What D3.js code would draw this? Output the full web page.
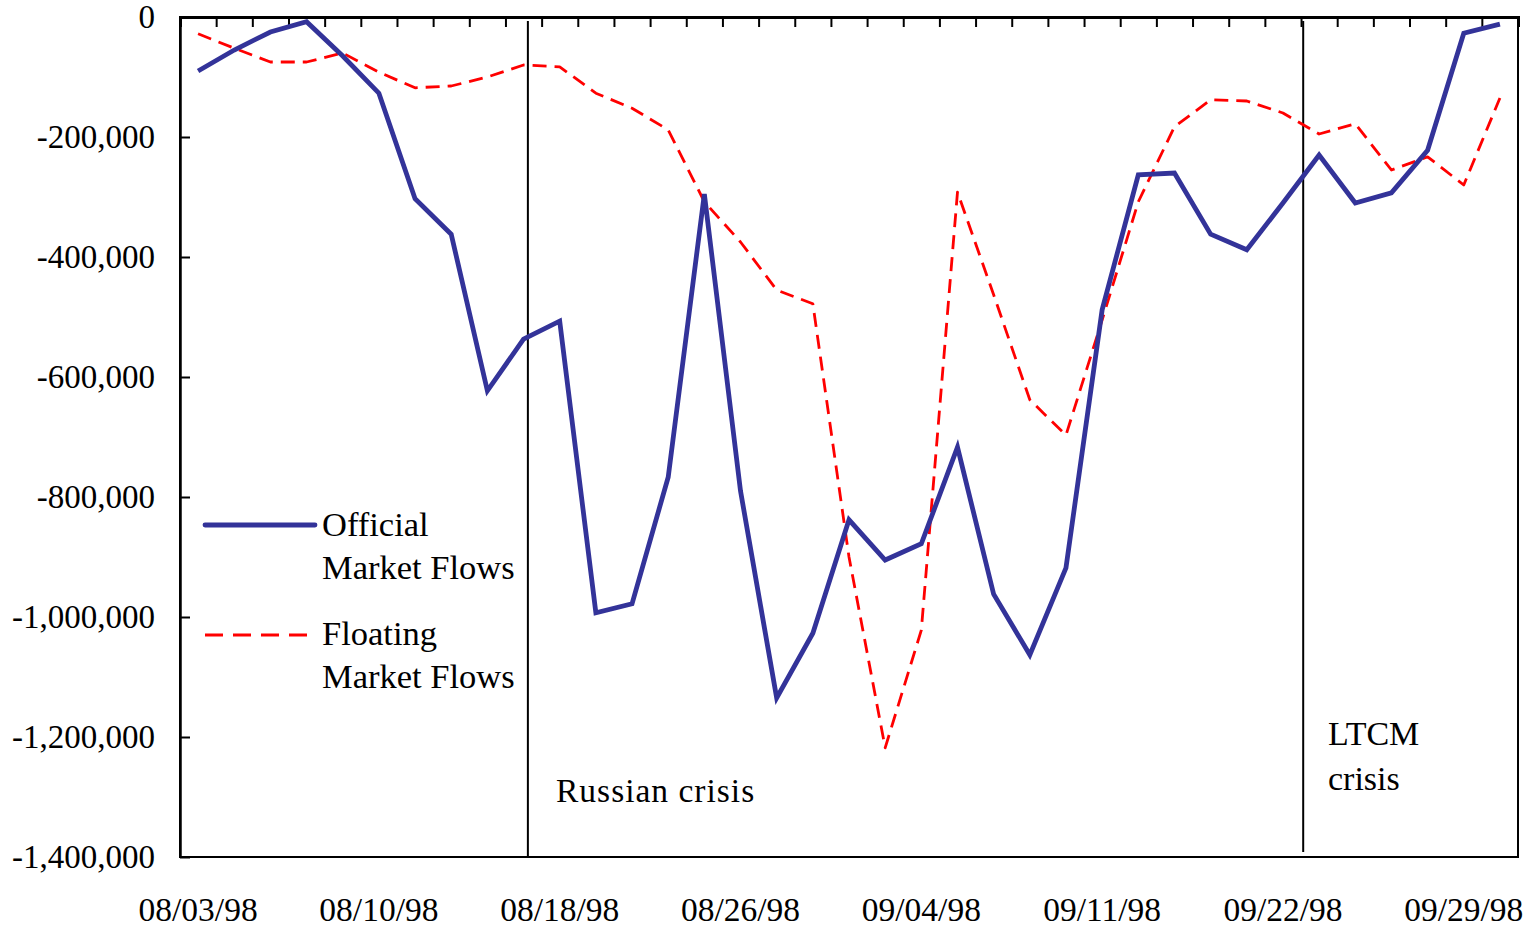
<!DOCTYPE html>
<html>
<head>
<meta charset="utf-8">
<script src="https://cdn.jsdelivr.net/npm/d3@7"></script>
<style>
  html, body { margin: 0; padding: 0; background: #fff; }
  svg { display: block; }
  text { font-family: "Liberation Serif", "Times New Roman", serif; fill: #000; }
</style>
</head>
<body>
<svg id="chart" width="1529" height="927"></svg>
<script>
// ---- data ----
const nPoints = 37;
const tickIndices = [0, 5, 10, 15, 20, 25, 30, 35];
const tickLabels = ["08/03/98", "08/10/98", "08/18/98", "08/26/98", "09/04/98", "09/11/98", "09/22/98", "09/29/98"];
const yTicks = [0, -200000, -400000, -600000, -800000, -1000000, -1200000, -1400000];

const official = [
  -90000, -55000, -25000, -8000, -65000, -127000, -303000, -362000, -623000, -537000,
  -507000, -993000, -978000, -767000, -295000, -790000, -1135000, -1027000, -838000, -905000,
  -878000, -717000, -962000, -1063000, -918000, -488000, -263000, -260000, -362000, -388000,
  -310000, -230000, -310000, -293000, -222000, -27000, -12000
];
const floating = [
  -28000, -52000, -75000, -75000, -60000, -92000, -118000, -115000, -100000, -80000,
  -83000, -127000, -152000, -188000, -308000, -375000, -455000, -478000, -900000, -1218000,
  -1022000, -292000, -463000, -638000, -697000, -505000, -308000, -183000, -138000, -140000,
  -160000, -195000, -178000, -255000, -233000, -280000, -135000
];
// crisis markers, in category units (band position)
const crisisPos = [9.62, 31.06];
const legendNames = [["Official", "Market Flows"], ["Floating", "Market Flows"]];

// ---- layout ----
const svg = d3.select("#chart");
const L = 180, R = 1518, T = 17, B = 857;

const x = d3.scaleBand().domain(d3.range(nPoints)).range([L, R]).padding(0);
const xc = i => x(i) + x.bandwidth() / 2;
const xb = d3.scaleLinear().domain([0, nPoints]).range([L, R]);
const y = d3.scaleLinear().domain([-1400000, 0]).range([B, T]);

// frame
svg.append("rect").attr("x", L).attr("y", T).attr("width", R - L).attr("height", B - T)
  .attr("fill", "none").attr("stroke", "#000").attr("stroke-width", 2);

// top category axis (ticks between categories, pointing down)
const topAx = svg.append("g").attr("transform", `translate(0,${T})`)
  .call(d3.axisBottom(xb).tickValues(d3.range(1, nPoints)).tickSize(10).tickFormat(""));
topAx.select(".domain").attr("stroke-width", 3);
topAx.selectAll(".tick line").attr("stroke-width", 2);

// bottom labels
const botAx = svg.append("g").attr("transform", `translate(0,${B})`)
  .call(d3.axisBottom(x).tickValues(tickIndices).tickSize(0).tickPadding(40)
    .tickFormat((d) => tickLabels[tickIndices.indexOf(d)]));
botAx.select(".domain").remove();
botAx.selectAll("text").style("font-size", "33.5px").attr("font-family", null);

// left axis
const fmt = d3.format(",");
const leftAx = svg.append("g").attr("transform", `translate(${L},0)`)
  .call(d3.axisLeft(y).tickValues(yTicks).tickSizeInner(-10).tickSizeOuter(0).tickPadding(25)
    .tickFormat(d => d === 0 ? "0" : "-" + fmt(Math.abs(d))));
leftAx.select(".domain").attr("stroke-width", 2.5);
leftAx.selectAll(".tick line").attr("stroke-width", 2);
leftAx.selectAll("text").style("font-size", "33px").attr("font-family", null);

// crisis lines
svg.selectAll("line.crisis").data(crisisPos).enter().append("line")
  .attr("class", "crisis")
  .attr("x1", d => xb(d)).attr("x2", d => xb(d))
  .attr("y1", T + 4).attr("y2", (d, i) => i === 0 ? B : B - 5)
  .attr("stroke", "#000").attr("stroke-width", 2);

// series lines
const line = d3.line().x((d, i) => xc(i)).y(d => y(d));
svg.append("path").datum(floating).attr("d", line)
  .attr("fill", "none").attr("stroke", "#ff0000").attr("stroke-width", 2.8)
  .attr("stroke-dasharray", "14,8").attr("stroke-linejoin", "round");
svg.append("path").datum(official).attr("d", line)
  .attr("fill", "none").attr("stroke", "#333399").attr("stroke-width", 4.8)
  .attr("stroke-linejoin", "miter");

// legend
const lg = svg.append("g");
lg.append("line").attr("x1", 205).attr("x2", 315).attr("y1", 525).attr("y2", 525)
  .attr("stroke", "#333399").attr("stroke-width", 4.8).attr("stroke-linecap", "round");
lg.append("line").attr("x1", 205).attr("x2", 315).attr("y1", 635).attr("y2", 635)
  .attr("stroke", "#ff0000").attr("stroke-width", 2.8).attr("stroke-dasharray", "18,10");
const legendBase = [536, 645];
legendNames.forEach((lines, k) => {
  lines.forEach((t, j) => {
    lg.append("text").attr("x", 322).attr("y", legendBase[k] + j * 43)
      .style("font-size", "34.5px").text(t);
  });
});

// annotations
svg.append("text").attr("x", 556).attr("y", 802).style("font-size", "33.5px")
  .attr("letter-spacing", "1px").text("Russian crisis");
svg.append("text").attr("x", 1328).attr("y", 745).style("font-size", "34px").text("LTCM");
svg.append("text").attr("x", 1328).attr("y", 790).style("font-size", "34px").text("crisis");
</script>
</body>
</html>
